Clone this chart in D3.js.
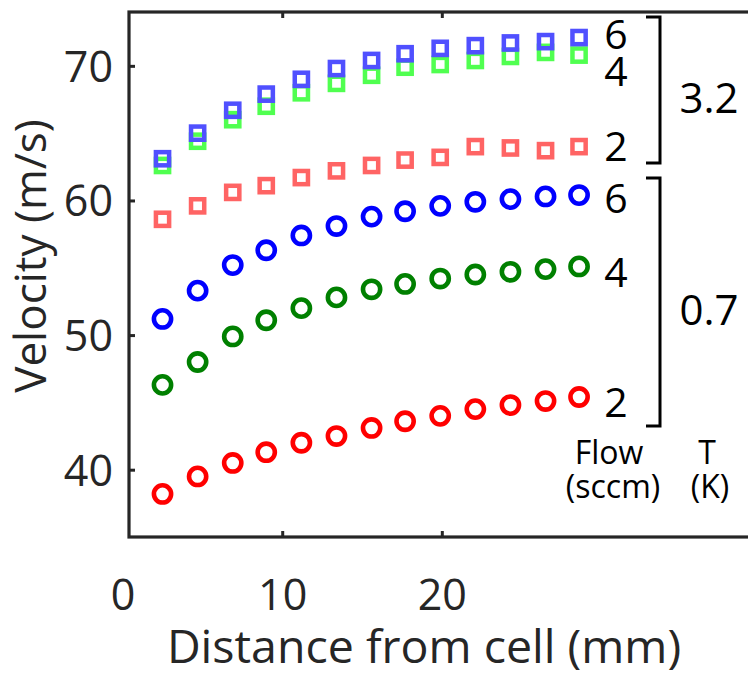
<!DOCTYPE html>
<html>
<head>
<meta charset="utf-8">
<script src="https://cdn.jsdelivr.net/npm/d3@7"></script>
<style>
  body { margin: 0; background: #fff; }
  svg { display: block; font-family: "Open Sans", sans-serif; }
</style>
</head>
<body>
<svg id="chart"></svg>
<script>
// distance from cell (mm), shared by every series
const distance = [2.5, 4.7, 6.9, 9.0, 11.2, 13.4, 15.6, 17.7, 19.9, 22.1, 24.3, 26.5, 28.6];

// T = 3.2 K (squares)
const v32_flow6 = [63.1, 65.0, 66.7, 67.9, 69.0, 69.8, 70.4, 70.9, 71.3, 71.5, 71.7, 71.8, 72.1];
const v32_flow4 = [62.6, 64.4, 66.0, 67.0, 68.0, 68.7, 69.3, 69.9, 70.1, 70.4, 70.7, 71.0, 70.8];
const v32_flow2 = [58.6, 59.6, 60.6, 61.1, 61.7, 62.2, 62.6, 63.0, 63.2, 64.0, 63.9, 63.7, 64.0];

// T = 0.7 K (circles)
const v07_flow6 = [51.2, 53.3, 55.2, 56.3, 57.4, 58.1, 58.8, 59.2, 59.6, 59.9, 60.1, 60.3, 60.4];
const v07_flow4 = [46.3, 48.0, 49.9, 51.1, 52.0, 52.8, 53.4, 53.8, 54.2, 54.5, 54.7, 54.9, 55.1];
const v07_flow2 = [38.2, 39.5, 40.5, 41.3, 42.0, 42.5, 43.1, 43.6, 44.0, 44.5, 44.8, 45.1, 45.4];

const xTicks = [0, 10, 20];
const yTicks = [40, 50, 60, 70];

const width = 748, height = 676;
const plotLeft = 129, plotRight = 761, plotTop = 12, plotBottom = 537;
const axisColor = "#262626";

const svg = d3.select("#chart")
  .attr("width", width)
  .attr("height", height)
  .attr("viewBox", [0, 0, width, height]);

const x = d3.scaleLinear().domain([0.4, 40]).range([plotLeft, plotRight]);
const y = d3.scaleLinear().domain([35, 74]).range([plotBottom, plotTop]);

// series, drawn back to front (green under blue for the squares)
const series = [
  {v: v07_flow2, shape: "circle", color: "#ff0000"},
  {v: v07_flow4, shape: "circle", color: "#008000"},
  {v: v07_flow6, shape: "circle", color: "#0000ff"},
  {v: v32_flow2, shape: "square", color: "#ff6464"},
  {v: v32_flow4, shape: "square", color: "#50ff50"},
  {v: v32_flow6, shape: "square", color: "#5050ff"},
];

const marks = svg.append("g");
series.forEach(s => {
  const pts = distance.map((d, i) => [d, s.v[i]]);
  if (s.shape == "circle") {
    marks.append("g").selectAll("circle")
      .data(pts)
      .join("circle")
      .attr("cx", d => x(d[0]))
      .attr("cy", d => y(d[1]))
      .attr("r", 8.6)
      .attr("fill", "none")
      .attr("stroke", s.color)
      .attr("stroke-width", 4.6);
  } else {
    marks.append("g").selectAll("rect")
      .data(pts)
      .join("rect")
      .attr("x", d => x(d[0]) - 6.6)
      .attr("y", d => y(d[1]) - 6.6)
      .attr("width", 13.2)
      .attr("height", 13.2)
      .attr("fill", "none")
      .attr("stroke", s.color)
      .attr("stroke-width", 4.5);
  }
});

// axes
const xAxis = svg.append("g")
  .attr("transform", `translate(0,${plotBottom})`)
  .call(d3.axisBottom(x).tickValues(xTicks).tickSizeInner(-6).tickSizeOuter(0).tickPadding(42));
const xAxisTop = svg.append("g")
  .attr("transform", `translate(0,${plotTop})`)
  .call(d3.axisTop(x).tickValues(xTicks).tickSizeInner(-6).tickSizeOuter(0).tickFormat(""));
const yAxis = svg.append("g")
  .attr("transform", `translate(${plotLeft},0)`)
  .call(d3.axisLeft(y).tickValues(yTicks).tickSizeInner(-6).tickSizeOuter(0).tickPadding(16));

[xAxis, xAxisTop, yAxis].forEach(a => {
  a.select(".domain").remove();
  a.selectAll(".tick line").attr("stroke", axisColor).attr("stroke-width", 3);
  a.selectAll(".tick text")
    .attr("fill", axisColor)
    .attr("font-size", 43)
    .attr("font-family", "Open Sans, sans-serif");
});
// no tick mark for 0, it sits left of the frame
xAxis.selectAll(".tick").filter(d => d < x.domain()[0]).select("line").remove();
xAxisTop.selectAll(".tick").filter(d => d < x.domain()[0]).select("line").remove();
xAxis.selectAll(".tick text").attr("dy", "0.71em");
yAxis.selectAll(".tick text").attr("dy", "0.36em");

// frame
svg.append("rect")
  .attr("x", plotLeft)
  .attr("y", plotTop)
  .attr("width", plotRight - plotLeft)
  .attr("height", plotBottom - plotTop)
  .attr("fill", "none")
  .attr("stroke", axisColor)
  .attr("stroke-width", 3.2);

// axis titles
svg.append("text")
  .attr("x", 424)
  .attr("y", 663)
  .attr("text-anchor", "middle")
  .attr("fill", axisColor)
  .attr("font-size", 46.5)
  .text("Distance from cell (mm)");

svg.append("text")
  .attr("transform", "translate(46,256) rotate(-90)")
  .attr("text-anchor", "middle")
  .attr("fill", axisColor)
  .attr("font-size", 44)
  .text("Velocity (m/s)");

// flow labels next to each series
const flowLabels = [
  {t: "6", y: 34}, {t: "4", y: 71}, {t: "2", y: 146},
  {t: "6", y: 198}, {t: "4", y: 272}, {t: "2", y: 402},
];
svg.append("g").selectAll("text")
  .data(flowLabels)
  .join("text")
  .attr("x", 616)
  .attr("y", d => d.y)
  .attr("dy", "0.36em")
  .attr("text-anchor", "middle")
  .attr("font-size", 41)
  .attr("fill", "#000")
  .text(d => d.t);

// brackets grouping by temperature
const brackets = [
  {y0: 17, y1: 163, label: "3.2", ly: 98},
  {y0: 178, y1: 426, label: "0.7", ly: 310},
];
brackets.forEach(b => {
  svg.append("path")
    .attr("d", `M646,${b.y0}H660V${b.y1}H646`)
    .attr("fill", "none")
    .attr("stroke", "#000")
    .attr("stroke-width", 3);
  svg.append("text")
    .attr("x", 709)
    .attr("y", b.ly)
    .attr("dy", "0.36em")
    .attr("text-anchor", "middle")
    .attr("font-size", 42)
    .attr("fill", "#000")
    .text(b.label);
});

// column headers
const headers = [
  {t: "Flow", x: 609, y: 464}, {t: "(sccm)", x: 613, y: 498},
  {t: "T", x: 707, y: 464}, {t: "(K)", x: 710, y: 498},
];
svg.append("g").selectAll("text")
  .data(headers)
  .join("text")
  .attr("x", d => d.x)
  .attr("y", d => d.y)
  .attr("text-anchor", "middle")
  .attr("font-size", 32)
  .attr("fill", "#000")
  .text(d => d.t);
</script>
</body>
</html>
